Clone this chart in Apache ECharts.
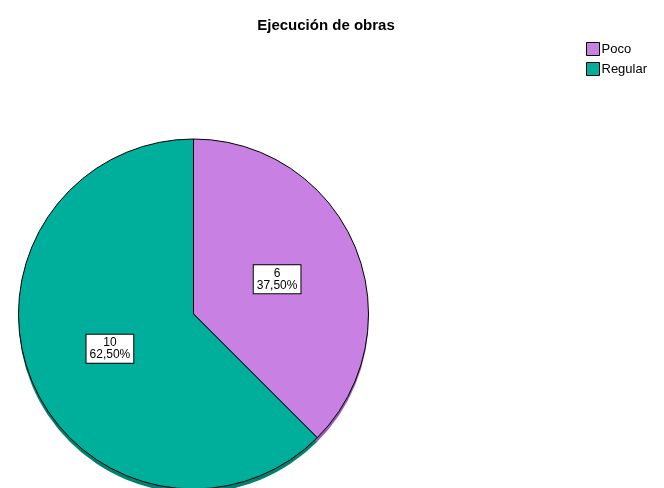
<!DOCTYPE html>
<html>
<head>
<meta charset="utf-8">
<script src="https://cdn.jsdelivr.net/npm/echarts@6/dist/echarts.min.js"></script>
<style>
html, body { margin: 0; padding: 0; background: #fff; }
#chart { width: 664px; height: 488px; }
</style>
</head>
<body>
<div id="chart"></div>
<script>
var categories = ['Poco', 'Regular'];
var counts = [6, 10];
var colors = ['#c880e2', '#00ae9c'];
var rimColors = ['#9a5cb0', '#00806f'];

var total = counts.reduce(function (a, b) { return a + b; }, 0);

function pct(v) {
    return (v / total * 100).toFixed(2).replace('.', ',') + '%';
}

var chart = echarts.init(document.getElementById('chart'));

var option = {
    animation: false,
    backgroundColor: '#fff',
    title: {
        text: 'Ejecución de obras',
        left: 321,
        top: 13,
        textAlign: 'center',
        textStyle: { fontFamily: 'Liberation Sans', fontSize: 15, fontWeight: 'bold', color: '#000' }
    },
    legend: {
        orient: 'vertical',
        left: 586,
        top: 42,
        padding: 0,
        itemWidth: 13,
        itemHeight: 13,
        itemGap: 6,
        icon: 'rect',
        data: categories,
        textStyle: { fontFamily: 'Liberation Sans', fontSize: 13, color: '#000', padding: [0, 0, 0, -3] },
        itemStyle: { borderColor: '#000', borderWidth: 1 }
    },
    series: [{
        // shaded rim under the pie
        type: 'pie',
        silent: true,
        center: [193.5, 318],
        radius: 175,
        startAngle: 90,
        clockwise: true,
        label: { show: false },
        labelLine: { show: false },
        legendHoverLink: false,
        data: categories.map(function (c, i) {
            return { name: c + ' ', value: counts[i], itemStyle: { color: rimColors[i] } };
        }),
        z: 1
    }, {
        type: 'pie',
        center: [193.5, 314],
        radius: 175,
        startAngle: 90,
        clockwise: true,
        itemStyle: { borderColor: '#000', borderWidth: 1 },
        label: {
            show: true,
            position: 'inside',
            formatter: function (p) { return p.value + '\n' + pct(p.value); },
            fontFamily: 'Liberation Sans',
            fontSize: 12,
            lineHeight: 12,
            color: '#000',
            backgroundColor: '#fff',
            borderColor: '#000',
            borderWidth: 1,
            padding: [3, 3, 1, 3],
            align: 'center'
        },
        data: categories.map(function (c, i) {
            return { name: c, value: counts[i], itemStyle: { color: colors[i] } };
        }),
        z: 2
    }]
};

chart.setOption(option);
window.addEventListener('resize', chart.resize);
</script>
</body>
</html>
